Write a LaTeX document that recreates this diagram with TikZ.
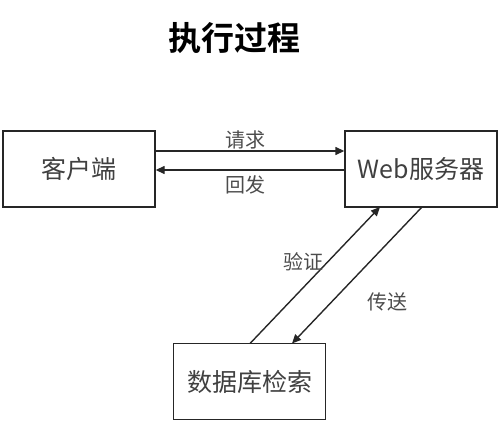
\documentclass[tikz,border=0pt]{standalone}
\usepackage{fontspec}
\newfontfamily\cjk{Noto Sans CJK SC}
\newfontfamily\cjkb{Noto Sans CJK SC Bold}
\usetikzlibrary{arrows.meta}
\begin{document}
\begin{tikzpicture}[x=1pt,y=-1pt,
  box/.style={draw=black!85,line width=1.4pt,minimum width=152pt,minimum height=76pt,inner sep=0pt,font=\cjk\fontsize{25}{27}\selectfont,text=black!75},
  lbl/.style={font=\cjk\fontsize{20}{22}\selectfont,text=black!70,inner sep=0pt},
  conn/.style={draw=black!85,line width=1.4pt,-{Triangle[length=9pt,width=8pt]}}]
\useasboundingbox (0,0) rectangle (500,422);
\node[font=\cjkb\fontsize{33}{36}\selectfont,inner sep=0pt] (title) at (234,38) {执行过程};
\node[box] (client) at (79,169) {客户端};
\node[box] (server) at (421,169) {Web服务器};
\node[box] (db) at (249.5,381.5) {数据库检索};
\coordinate (c1) at (client.east |- 0,151);
\coordinate (s1) at (server.west |- 0,151);
\coordinate (c2) at (client.east |- 0,170);
\coordinate (s2) at (server.west |- 0,170);
\draw[conn] (c1) -- (s1);
\draw[conn] (s2) -- (c2);
\coordinate (d1) at (250,343.5);
\coordinate (sv1) at (380,207);
\coordinate (sv2) at (422,207);
\coordinate (d2) at (292,343.5);
\draw[conn] (d1) -- (sv1);
\draw[conn] (sv2) -- (d2);
\node[lbl] (l1) at (245,140) {请求};
\node[lbl] (l2) at (245,185) {回发};
\node[lbl] (l3) at (303,262) {验证};
\node[lbl] (l4) at (387,302) {传送};
\end{tikzpicture}
\end{document}
